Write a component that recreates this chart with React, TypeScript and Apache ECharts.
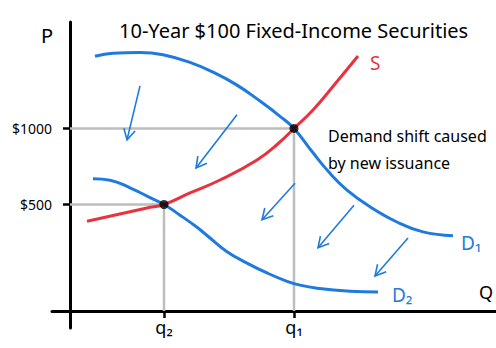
import React, { useEffect, useRef } from "react";
import * as echarts from "echarts";

const titleText = "10-Year $100 Fixed-Income Securities";
const noteLines = ["Demand shift caused", "by new issuance"];
const priceTicks = [500, 1000];
const quantityTicks = [94, 224];
const quantityLabels = ["q₂", "q₁"];
const priceAxisName = "P";
const quantityAxisName = "Q";

const supply = [
  [17, 390], [43, 428], [77, 477], [94, 500], [120, 576], [150, 661],
  [187, 793], [210, 911], [224, 1000], [243, 1121], [265, 1292], [288, 1476],
];
const demand1 = [
  [25, 1475], [43, 1495], [70, 1500], [93, 1485], [120, 1435], [143, 1370],
  [167, 1285], [190, 1180], [210, 1080], [224, 1000], [243, 840], [260, 705],
  [277, 595], [300, 485], [327, 385], [353, 320], [383, 295],
];
const demand2 = [
  [23, 670], [40, 660], [60, 610], [77, 555], [94, 500], [110, 430],
  [127, 350], [140, 280], [157, 190], [177, 115], [197, 50], [217, -5],
  [230, -30], [247, -50], [280, -70], [308, -75],
];
const equilibria = [
  [94, 500],
  [224, 1000],
];
// [fromQ, fromP, toQ, toP]
const shiftArrows = [
  [70, 1280, 57, 925],
  [167, 1090, 126, 740],
  [225, 640, 192, 400],
  [284, 495, 248, 215],
  [338, 280, 305, 30],
];

const xMin = -18;
const xMax = 426;
const yMin = -312;
const yMax = 1700;
const axisFloor = -200;

const BLUE = "#1f7ae0";
const RED = "#e8333f";
const GRAY = "#bdbdbd";
const FONT = "Noto Sans";

export default function App() {
  const ref = useRef<HTMLDivElement>(null);

  useEffect(() => {
    if (!ref.current) return;
    const chart = echarts.init(ref.current, null, { renderer: "svg" });

    const guideSeries = equilibria.map((pt) => ({
      type: "line",
      data: [
        [0, pt[1]],
        [pt[0], pt[1]],
        [pt[0], axisFloor],
      ],
      symbol: "none",
      lineStyle: { color: GRAY, width: 2.5 },
      z: 1,
      silent: true,
    }));

    const curve = (name: string, data: number[][], color: string, label: string, offset: number[]) => ({
      type: "line",
      name,
      data,
      smooth: 0.45,
      symbol: "none",
      lineStyle: { color, width: 3 },
      z: 3,
      endLabel: {
        show: true,
        formatter: label,
        color,
        fontSize: 19,
        fontFamily: FONT,
        offset,
      },
    });

    const option: any = {
      animation: false,
      backgroundColor: "#ffffff",
      title: [
        {
          text: titleText,
          left: 114,
          top: 15,
          textStyle: { fontSize: 20, fontWeight: "normal", color: "#000", fontFamily: FONT },
        },
        {
          text: noteLines.join("\n"),
          left: 323,
          top: 117,
          textStyle: {
            fontSize: 16,
            lineHeight: 27,
            fontWeight: "normal",
            color: "#000",
            fontFamily: FONT,
          },
        },
      ],
      grid: { left: 52, right: 0, top: 22, bottom: 20, outerBoundsMode: "none", containLabel: false },
      xAxis: {
        type: "value",
        min: xMin,
        max: xMax,
        offset: -17,
        name: quantityAxisName,
        nameLocation: "end",
        nameGap: -17,
        nameTextStyle: {
          align: "left",
          verticalAlign: "bottom",
          padding: [0, 0, 10, 0],
          fontSize: 18,
          color: "#000",
          fontFamily: FONT,
        },
        axisLine: { onZero: false, lineStyle: { color: "#000", width: 3 } },
        axisTick: {
          show: true,
          customValues: quantityTicks,
          length: 7,
          lineStyle: { color: "#000", width: 2.5 },
        },
        axisLabel: {
          show: true,
          customValues: quantityTicks,
          formatter: (v: number) => quantityLabels[quantityTicks.indexOf(v)] ?? "",
          margin: 7,
          fontSize: 18,
          color: "#000",
          fontFamily: FONT,
        },
        splitLine: { show: false },
      },
      yAxis: {
        type: "value",
        min: yMin,
        max: yMax,
        name: priceAxisName,
        nameLocation: "end",
        nameGap: -13,
        nameTextStyle: {
          align: "right",
          verticalAlign: "middle",
          padding: [0, 17, 0, 0],
          fontSize: 20,
          color: "#000",
          fontFamily: FONT,
        },
        axisLine: { onZero: true, lineStyle: { color: "#000", width: 3 } },
        axisTick: {
          show: true,
          customValues: priceTicks,
          length: 7,
          lineStyle: { color: "#000", width: 2.5 },
        },
        axisLabel: {
          show: true,
          customValues: priceTicks,
          formatter: (v: number) => "$" + v,
          margin: 0,
          fontSize: 14,
          color: "#000",
          fontFamily: FONT,
        },
        splitLine: { show: false },
      },
      series: [
        ...guideSeries,
        curve("D1", demand1, BLUE, "D₁", [0, 7]),
        curve("D2", demand2, BLUE, "D₂", [6, 3]),
        curve("S", supply, RED, "S", [4, 7]),
        {
          type: "scatter",
          data: equilibria,
          symbolSize: 9,
          itemStyle: { color: "#000" },
          z: 5,
        },
        {
          type: "custom",
          data: shiftArrows,
          encode: { x: [0, 2], y: [1, 3] },
          z: 4,
          renderItem: (params: any, api: any) => {
            const p1 = api.coord([api.value(0), api.value(1)]);
            const p2 = api.coord([api.value(2), api.value(3)]);
            const ang = Math.atan2(p2[1] - p1[1], p2[0] - p1[0]);
            const len = 12;
            const spread = 0.5;
            const h1 = [p2[0] - len * Math.cos(ang - spread), p2[1] - len * Math.sin(ang - spread)];
            const h2 = [p2[0] - len * Math.cos(ang + spread), p2[1] - len * Math.sin(ang + spread)];
            const style = { stroke: BLUE, lineWidth: 1.6, fill: "none" };
            return {
              type: "group",
              children: [
                { type: "line", shape: { x1: p1[0], y1: p1[1], x2: p2[0], y2: p2[1] }, style },
                { type: "polyline", shape: { points: [h1, p2, h2] }, style },
              ],
            };
          },
        },
      ],
    };

    chart.setOption(option);
    return () => chart.dispose();
  }, []);

  return (
    <div
      ref={ref}
      style={{ position: "absolute", left: 0, top: 0, width: 496, height: 348 }}
    />
  );
}
